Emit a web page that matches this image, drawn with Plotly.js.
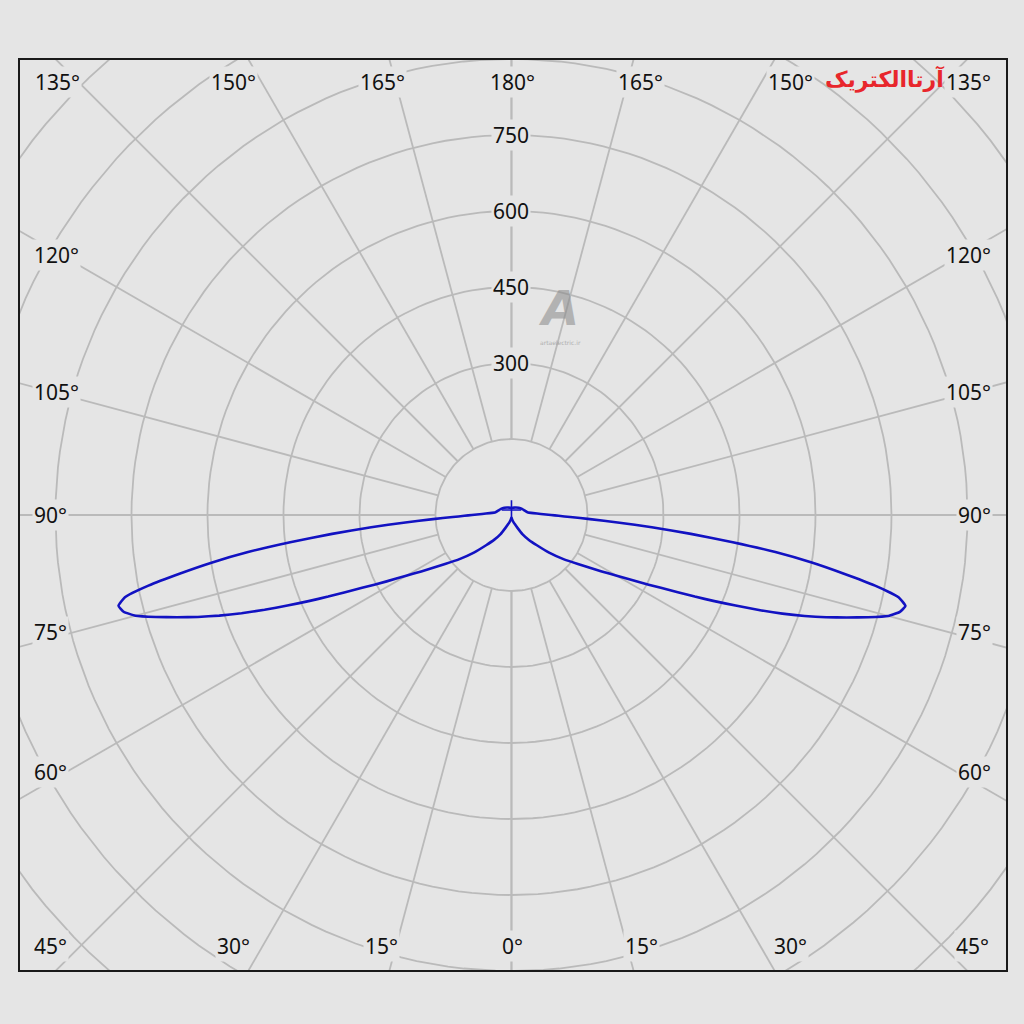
<!DOCTYPE html>
<html>
<head>
<meta charset="utf-8">
<script src="https://cdn.plot.ly/plotly-3.0.1.min.js"></script>
<style>html,body{margin:0;padding:0;background:#e5e5e5;}#chart{width:1024px;height:1024px;}</style>
</head>
<body>
<div id="chart"></div>
<script>
// ---- data (luminous intensity, cd/klm) ----
const gammaDeg = [0,5,10,15,20,25,30,35,40,45,50,54,58,60,62,64,66,67,68,69,70,71,72,73,74,75,76,77,78,79,80,81,82,83,84,85,86,87,88,89,90,92,95,100,110,120,135,150,165,180];
const intensityRight = [5,7,10,14,19,28,44,60,78,105,137,166,210,240,279,328,396,435,477,523,569,612,653,692,732,770,790,798,781,731,665,600,526,440,356,278,210,155,116,93,78,58,43,32,27,24,20,17,15,14];
const intensityLeft  = [5,7,10,14,19,28,44,60,78,105,137,166,210,240,279,328,396,435,477,522,567,610,651,690,730,768,789,796,780,730,664,598,525,440,356,278,210,155,116,93,78,58,43,32,27,24,20,17,15,14];
const ringValues = [150,300,450,600,750,900,1050,1200,1350];
const ringLabelValues = [300,450,600,750];
const spokeAngles = [0,15,30,45,60,75,90,105,120,135,150,165,180];
const topLabels = ['135°','150°','165°','180°','165°','150°','135°'];
const bottomLabels = ['45°','30°','15°','0°','15°','30°','45°'];
const sideLabels = ['120°','105°','90°','75°','60°'];

// ---- layout constants ----
const W = 1024, H = 1024;
const M = {l:20, r:18, t:60, b:54};
const xRange = [-970, 976], yRange = [-898, 898];
const bg = '#e5e5e5';
const gridColor = '#bababa';
const curveColor = '#1212c2';
const FONT = 'Noto Sans, DejaVu Sans, sans-serif';

const rad = d => d*Math.PI/180;
const traces = [];

// rings
ringValues.forEach(r => {
  const xs = [], ys = [];
  for (let a = 0; a <= 360; a += 2) { xs.push(r*Math.sin(rad(a))); ys.push(-r*Math.cos(rad(a))); }
  traces.push({type:'scatter', mode:'lines', x:xs, y:ys, line:{color:gridColor, width:1.8}, hoverinfo:'skip', showlegend:false});
});
// spokes (both halves), starting at the innermost ring
const rIn = ringValues[0], rOut = 2000;
[1,-1].forEach(side => spokeAngles.forEach(g => {
  traces.push({type:'scatter', mode:'lines',
    x:[side*rIn*Math.sin(rad(g)), side*rOut*Math.sin(rad(g))],
    y:[-rIn*Math.cos(rad(g)), -rOut*Math.cos(rad(g))],
    line:{color:gridColor, width:1.8}, hoverinfo:'skip', showlegend:false});
}));

// intensity curve: right half 0..180, then left half 180..0
const cx = [], cy = [];
gammaDeg.forEach((g,i) => { cx.push(intensityRight[i]*Math.sin(rad(g))); cy.push(-intensityRight[i]*Math.cos(rad(g))); });
for (let i = gammaDeg.length-1; i >= 0; i--) { const g = gammaDeg[i]; cx.push(-intensityLeft[i]*Math.sin(rad(g))); cy.push(-intensityLeft[i]*Math.cos(rad(g))); }
traces.push({type:'scatter', mode:'lines', x:cx, y:cy, line:{color:curveColor, width:2.6, shape:'spline', smoothing:0.4}, hoverinfo:'skip', showlegend:false});
// centre mark
traces.push({type:'scatter', mode:'markers', x:[0], y:[10], marker:{symbol:'cross-thin', size:14, line:{color:curveColor, width:1.6}}, hoverinfo:'skip', showlegend:false});

// ---- annotations ----
const pw = W - M.l - M.r, ph = H - M.t - M.b;
const px = p => (p - M.l)/pw;
const py = p => (H - M.b - p)/ph;
const ann = [];
const lab = (text, xpix, ypix, xanchor) => ann.push({text, x:px(xpix), y:py(ypix), xref:'paper', yref:'paper', xanchor, yanchor:'middle', showarrow:false, bgcolor:bg, borderpad:1, font:{family:FONT, size:21, color:'#111'}});
const topX = [57,233,382,512,640,790,968];
topLabels.forEach((t,i) => lab(t, topX[i], 82, 'center'));
const botX = [50,233,381,512,641,790,972];
bottomLabels.forEach((t,i) => lab(t, botX[i], 946, 'center'));
const sideY = [255,392,515,632,772];
sideLabels.forEach((t,i) => { lab(t, 32, sideY[i], 'left'); lab(t, 993, sideY[i], 'right'); });
ringLabelValues.forEach(v => ann.push({text:String(v), x:0, y:v, xref:'x', yref:'y', showarrow:false, bgcolor:bg, borderpad:1, font:{family:FONT, size:21, color:'#111'}}));
// watermarks
ann.push({text:'<b>آرتاالکتریک</b>', x:px(884), y:py(78), xref:'paper', yref:'paper', xanchor:'center', yanchor:'middle', showarrow:false, font:{family:'Noto Sans, DejaVu Sans, sans-serif', size:22, color:'#e8262c'}});
ann.push({text:'<i><b>A</b></i>', x:px(558), y:py(308), xref:'paper', yref:'paper', xanchor:'center', yanchor:'middle', showarrow:false, opacity:0.55, font:{family:'DejaVu Sans, sans-serif', size:48, color:'#8a8a8a'}});
ann.push({text:'artaelectric.ir', x:px(560), y:py(337), xref:'paper', yref:'paper', xanchor:'center', yanchor:'top', showarrow:false, opacity:0.5, font:{family:'DejaVu Sans, sans-serif', size:6, color:'#777'}});

const layout = {
  width:W, height:H, margin:M,
  paper_bgcolor:bg, plot_bgcolor:bg, showlegend:false,
  xaxis:{range:xRange, showgrid:false, zeroline:false, showticklabels:false, ticks:'', showline:true, mirror:true, linecolor:'#1a1a1a', linewidth:2, fixedrange:true},
  yaxis:{range:yRange, showgrid:false, zeroline:false, showticklabels:false, ticks:'', showline:true, mirror:true, linecolor:'#1a1a1a', linewidth:2, fixedrange:true},
  annotations:ann
};
Plotly.newPlot('chart', traces, layout, {staticPlot:true, displayModeBar:false});
</script>
</body>
</html>
